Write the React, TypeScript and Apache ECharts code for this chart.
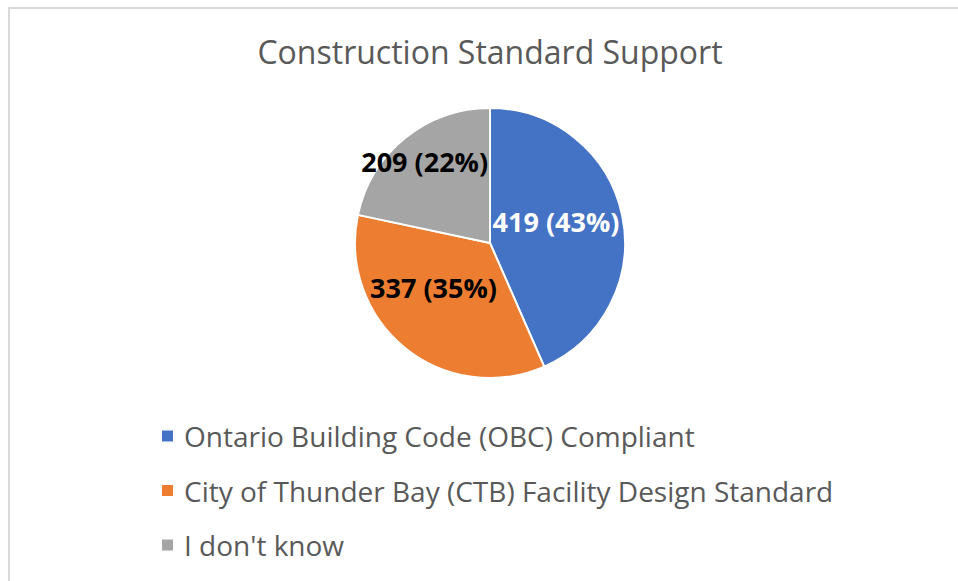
import React, { useEffect, useRef } from "react";
import * as echarts from "echarts";

const title = "Construction Standard Support";
const categories = [
  "Ontario Building Code (OBC) Compliant",
  "City of Thunder Bay (CTB) Facility Design Standard",
  "I don't know",
];
const values = [419, 337, 209];
const colors = ["#4472C4", "#ED7D31", "#A5A5A5"];
const labelColors = ["#FFFFFF", "#000000", "#000000"];
// label nudges (px) from the default inner position
const labelShift = [
  [-3, -7],
  [-12, -10],
  [-21, -27],
];

export default function App() {
  const ref = useRef<HTMLDivElement>(null);
  useEffect(() => {
    if (!ref.current) return;
    const chart = echarts.init(ref.current, undefined, { renderer: "svg" });
    chart.setOption({
      animation: false,
      backgroundColor: "#ffffff",
      title: {
        text: title,
        left: 485,
        top: 30,
        textAlign: "center",
        textStyle: {
          fontFamily: "Open Sans",
          fontSize: 32,
          fontWeight: "normal",
          color: "#595959",
        },
      },
      graphic: [
        {
          type: "rect",
          shape: { x: 9, y: 8, width: 980, height: 620 },
          style: { fill: "none", stroke: "#d9d9d9", lineWidth: 2 },
          silent: true,
        },
      ],
      legend: {
        orient: "vertical",
        left: 160,
        top: 420,
        padding: 0,
        icon: "rect",
        itemWidth: 13,
        itemHeight: 13,
        itemGap: 22.5,
        data: categories,
        textStyle: {
          fontFamily: "Open Sans",
          fontSize: 28,
          color: "#595959",
          lineHeight: 32,
          padding: [0, 0, 0, 5],
        },
      },
      series: [
        {
          type: "pie",
          center: [490, 243],
          radius: 135,
          startAngle: 90,
          clockwise: true,
          percentPrecision: 0,
          itemStyle: { borderColor: "#ffffff", borderWidth: 2 },
          label: {
            show: true,
            position: "inner",
            formatter: "{c} ({d}%)",
            fontFamily: "Open Sans",
            fontWeight: "bold",
            fontSize: 27,
          },
          labelLine: { show: false },
          labelLayout: (params: any) => ({
            dx: labelShift[params.dataIndex][0],
            dy: labelShift[params.dataIndex][1],
          }),
          data: categories.map((name, i) => ({
            name,
            value: values[i],
            itemStyle: { color: colors[i] },
            label: { color: labelColors[i] },
          })),
        },
      ],
    });
    return () => chart.dispose();
  }, []);
  return (
    <div
      ref={ref}
      style={{ position: "fixed", left: 0, top: 0, width: 958, height: 581 }}
    />
  );
}
